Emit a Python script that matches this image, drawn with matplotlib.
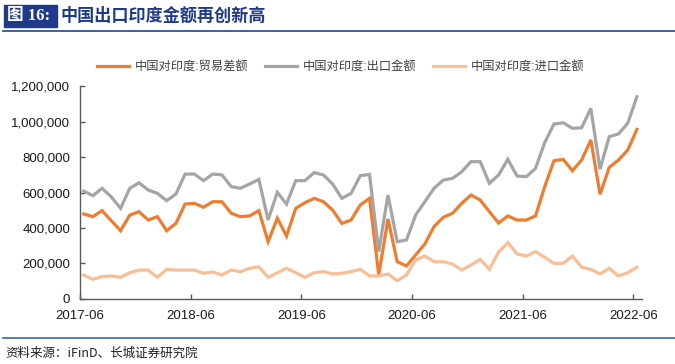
import matplotlib
matplotlib.use('Agg')
import matplotlib.pyplot as plt
from matplotlib.patches import Rectangle
from matplotlib.lines import Line2D
from matplotlib.ticker import FuncFormatter
import numpy as np

plt.rcParams['font.family'] = ['Liberation Sans', 'Noto Sans CJK SC', 'DejaVu Sans']

# monthly data, 2017-06 .. 2022-06
months = [f'{y}-{m:02d}' for y in range(2017, 2023) for m in range(1, 13)]
months = months[months.index('2017-06'):months.index('2022-06') + 1]

balance = [479000, 464000, 498000, 441000, 385000, 473000, 492000, 445000, 464000, 385000,
           426000, 535000, 539000, 517000, 548000, 548000, 483000, 464000, 468000, 498000,
           323000, 455000, 355000, 511000, 543000, 567000, 548000, 501000, 426000, 445000,
           530000, 567000, 135000, 451000, 210000, 186000, 248000, 310000, 408000, 460000,
           483000, 539000, 586000, 558000, 492000, 428000, 468000, 445000, 445000, 468000,
           633000, 779000, 787000, 723000, 783000, 896000, 590000, 742000, 783000, 839000,
           956000]
exports = [608000, 582000, 624000, 575000, 511000, 624000, 655000, 614000, 595000, 554000,
           591000, 704000, 704000, 667000, 704000, 699000, 633000, 624000, 648000, 674000,
           445000, 601000, 535000, 667000, 667000, 712000, 699000, 648000, 567000, 595000,
           695000, 702000, 267000, 586000, 323000, 332000, 473000, 548000, 624000, 670000,
           680000, 717000, 774000, 774000, 652000, 699000, 787000, 693000, 689000, 736000,
           881000, 986000, 993000, 962000, 965000, 1074000, 731000, 915000, 930000, 990000,
           1140000]
imports = [135000, 111000, 126000, 130000, 122000, 148000, 163000, 163000, 122000, 167000,
           163000, 163000, 163000, 145000, 152000, 135000, 163000, 154000, 173000, 182000,
           122000, 148000, 173000, 148000, 122000, 148000, 154000, 141000, 145000, 154000,
           168000, 130000, 130000, 141000, 103000, 135000, 220000, 242000, 210000, 210000,
           197000, 163000, 192000, 223000, 167000, 265000, 317000, 254000, 242000, 267000,
           235000, 201000, 201000, 242000, 179000, 167000, 141000, 173000, 130000, 148000,
           179000]

labels = ['中国对印度:贸易差额', '中国对印度:出口金额', '中国对印度:进口金额']
colors = ['#ED7D31', '#A5A5A5', '#F8BE96']

fig = plt.figure(figsize=(6.75, 3.64), dpi=100)
ax = fig.add_axes([0.1185, 0.1786, 0.8326, 0.585])

x = np.arange(len(months))
for vals, lab, col in zip([balance, exports, imports], labels, colors):
    ax.plot(x, vals, color=col, lw=2.3, label=lab, solid_joinstyle='miter')

ax.set_ylim(0, 1200000)
ax.set_yticks(np.arange(0, 1200001, 200000))
ax.yaxis.set_major_formatter(FuncFormatter(lambda v, p: f'{v:,.0f}'))
ticks = np.arange(0, len(months), 12)
ax.set_xticks(ticks - 0.4)
ax.set_xticklabels([months[i] for i in ticks])
ax.set_xlim(-0.4, len(months) - 0.45)

for s in ['top', 'right']:
    ax.spines[s].set_visible(False)
for s in ['left', 'bottom']:
    ax.spines[s].set_color('#595959')
    ax.spines[s].set_linewidth(1.0)
ax.tick_params(axis='both', direction='in', length=3.5, width=1.0, color='#595959',
               labelsize=9.5, labelcolor='#1a1a1a')
ax.tick_params(axis='y', pad=7)
ax.tick_params(axis='x', pad=8)

fig.legend(loc='center', bbox_to_anchor=(0.505, 0.816), ncol=3, frameon=False,
           fontsize=8.8, handlelength=2.6, handletextpad=0.45, columnspacing=1.4,
           labelcolor='#404040')

# title bar
fig.add_artist(Rectangle((4 / 675, 1 - 27 / 364), 53 / 675, 22 / 364,
                         transform=fig.transFigure, color='#1F3A8A'))
fig.text(7 / 675, 1 - 16 / 364, '图 16:', color='white', fontsize=12, fontweight='bold',
         va='center', ha='left', family=['Liberation Serif', 'Noto Sans CJK SC'])
fig.text(60 / 675, 1 - 16 / 364, '中国出口印度金额再创新高', color='#1F3A8A', fontsize=12.3,
         fontweight='bold', va='center', ha='left', family=['Noto Sans CJK SC'])
fig.add_artist(Line2D([3 / 675, 1], [1 - 31 / 364] * 2, transform=fig.transFigure,
                      color='#2F5597', lw=1.3))
fig.add_artist(Line2D([3 / 675, 1], [1 - 338 / 364] * 2, transform=fig.transFigure,
                      color='#4A74AC', lw=1.3))
fig.text(5 / 675, 1 - 353 / 364, '资料来源：iFinD、长城证券研究院', color='#222222', fontsize=9,
         va='center', ha='left', family=['Noto Sans CJK SC', 'Liberation Serif'])

fig.savefig('out.png', dpi=100)
